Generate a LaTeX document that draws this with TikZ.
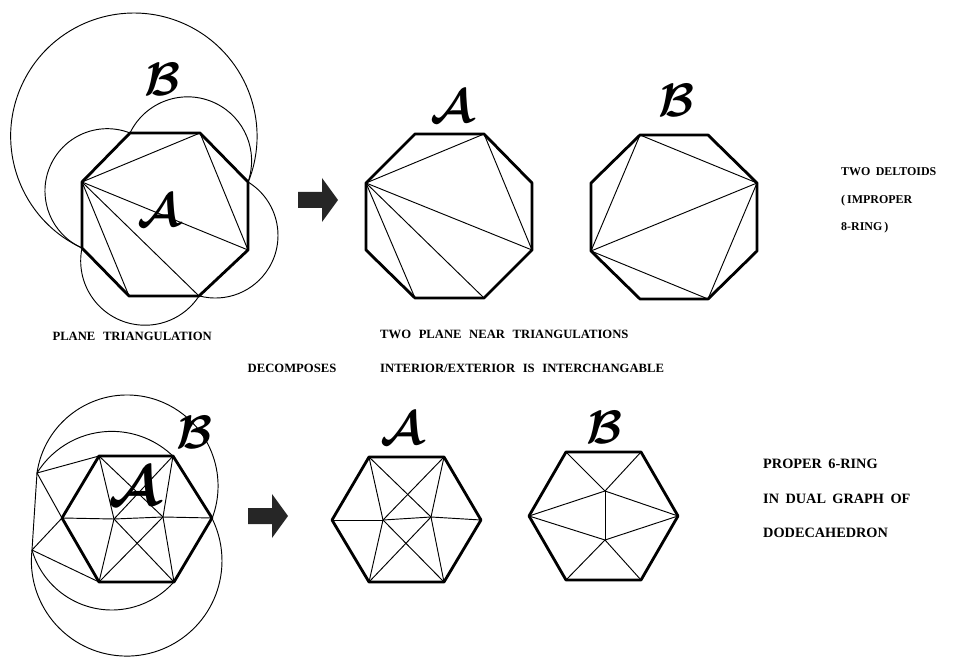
\RequirePackage{fix-cm}
\documentclass[tikz,border=0pt]{standalone}
\usepackage{fontspec}
\setmainfont{Liberation Serif}
\usetikzlibrary{positioning}

\newcommand{\capgap}{\spaceskip 0.6em\relax}
\newcommand{\notegap}{\spaceskip 0.45em\relax}

\tikzset{
    decomp/.pic={
        \fill[black!85] (-20,-8) -- (4,-8) -- (4,-22) -- (20,0) -- (4,22)
            -- (4,8) -- (-20,8) -- cycle;
    }
}

\begin{document}
\begin{tikzpicture}[x=0.03cm, y=-0.03cm,
    rim/.style={line width=2.4pt, line join=round},
    chord/.style={line width=0.8pt},
    letter/.style={inner sep=0pt, font=\fontsize{40}{40}\selectfont\boldmath},
    caption/.style={inner sep=0pt, text height=7pt, text depth=2.5pt,
                    font=\bfseries\fontsize{10.8}{12}\selectfont\capgap},
    note/.style={inner sep=0pt, text height=7pt, text depth=2.5pt,
                 font=\bfseries\fontsize{10.2}{12}\selectfont\notegap},
    bigcaption/.style={inner sep=0pt, text height=8.4pt, text depth=3pt,
                       font=\bfseries\fontsize{12.2}{14}\selectfont\notegap}
]
    \useasboundingbox (0,0) rectangle (954,657);

    % top row: the triangulated octagon, drawn with its outside half
    \coordinate (t1) at (130,133);
    \coordinate (t2) at (200,133);
    \coordinate (t3) at (248,182);
    \coordinate (t4) at (248,250);
    \coordinate (t5) at (199,296);
    \coordinate (t6) at (129,296);
    \coordinate (t7) at (82,248);
    \coordinate (t8) at (82,182);
    \draw[rim] (t1) -- (t2) -- (t3) -- (t4) -- (t5) -- (t6) -- (t7) -- (t8) -- cycle;
    \foreach \u/\v in {t8/t2, t8/t4, t8/t5, t8/t6, t2/t4}
        \draw[chord] (\u) -- (\v);
    \draw[chord] (t1) arc[start angle=68.6, end angle=246.1, radius=1.869cm];
    \draw[chord] (t1) arc[start angle=154.2, end angle=-19.3, radius=1.92cm];
    \draw[chord] (t3) arc[start angle=58.6, end angle=-105.2, radius=1.878cm];
    \draw[chord] (t7) arc[start angle=168.5, end angle=326.9, radius=1.932cm];
    \draw[chord] (t7) arc[start angle=245.1, end angle=-21.9, radius=3.696cm];
    \node[letter] (tlB) at (163,79) {$\mathcal{B}$};
    \node[letter] (tlA) at (159,210) {$\mathcal{A}$};

    \pic (splittop) at (318,200) {decomp};

    % top row: part A
    \coordinate (a1) at (415,134);
    \coordinate (a2) at (484,134);
    \coordinate (a3) at (532,183);
    \coordinate (a4) at (532,250);
    \coordinate (a5) at (484,298);
    \coordinate (a6) at (415,298);
    \coordinate (a7) at (366,250);
    \coordinate (a8) at (366,183);
    \draw[rim] (a1) -- (a2) -- (a3) -- (a4) -- (a5) -- (a6) -- (a7) -- (a8) -- cycle;
    \foreach \u/\v in {a8/a2, a8/a4, a8/a5, a8/a6, a2/a4}
        \draw[chord] (\u) -- (\v);
    \node[letter] (taA) at (452,106) {$\mathcal{A}$};

    % top row: part B
    \coordinate (b1) at (640,135);
    \coordinate (b2) at (708,135);
    \coordinate (b3) at (757,183);
    \coordinate (b4) at (757,251);
    \coordinate (b5) at (708,299);
    \coordinate (b6) at (640,299);
    \coordinate (b7) at (591,251);
    \coordinate (b8) at (591,183);
    \draw[rim] (b1) -- (b2) -- (b3) -- (b4) -- (b5) -- (b6) -- (b7) -- (b8) -- cycle;
    \foreach \u/\v in {b7/b1, b7/b3, b7/b5, b1/b3, b3/b5}
        \draw[chord] (\u) -- (\v);
    \node[letter] (tbB) at (677,100) {$\mathcal{B}$};

    \node[caption, anchor=east] (plane) at (212,338) {PLANE TRIANGULATION};
    \node[caption] (decomp) at (292,370) {DECOMPOSES};
    \node[caption, anchor=west] (near1) at (380,336) {TWO PLANE NEAR TRIANGULATIONS};
    \node[caption, anchor=west] (near2) at (380,370) {INTERIOR/EXTERIOR IS INTERCHANGABLE};
    \node[note, anchor=west] (delt1) at (841,173) {TWO DELTOIDS};
    \node[note, below=14pt of delt1.south west, anchor=north west] (delt2) {(\,IMPROPER};
    \node[note, below=13pt of delt2.south west, anchor=north west] (delt3) {8-RING\,)};

    % bottom row: the triangulated hexagon, drawn with its outside half
    \coordinate (h1) at (99,456);
    \coordinate (h2) at (173,456);
    \coordinate (h3) at (212,518);
    \coordinate (h4) at (174,582);
    \coordinate (h5) at (99,582);
    \coordinate (h6) at (62,518);
    \coordinate (hp) at (114,519);
    \coordinate (hq) at (163,517);
    \coordinate (ho1) at (37,473);
    \coordinate (ho2) at (32,550);
    \draw[rim] (h1) -- (h2) -- (h3) -- (h4) -- (h5) -- (h6) -- cycle;
    \foreach \u/\v in {h6/hp, hp/hq, hq/h3, h1/hp, h1/hq, h2/hp, h2/hq,
                       h5/hp, h5/hq, h4/hp, h4/hq,
                       ho1/h1, ho1/h6, ho1/ho2, ho2/h6, ho2/h5}
        \draw[chord] (\u) -- (\v);
    \draw[chord] (ho1) arc[start angle=171.8, end angle=-20.6, radius=2.73cm];
    \draw[chord] (ho1) arc[start angle=148.2, end angle=46.0, radius=2.64cm];
    \draw[chord] (ho2) arc[start angle=196.1, end angle=318.5, radius=2.49cm];
    \draw[chord] (ho2) arc[start angle=173.5, end angle=386.6, radius=2.859cm];
    \node[letter] (blB) at (195,432) {$\mathcal{B}$};
    \node[letter, font=\fontsize{48}{48}\selectfont\boldmath] (blA) at (134,486) {$\mathcal{A}$};

    \pic (splitbottom) at (268,516) {decomp};

    % bottom row: part A
    \coordinate (m1) at (369,457);
    \coordinate (m2) at (444,457);
    \coordinate (m3) at (481,520);
    \coordinate (m4) at (444,582);
    \coordinate (m5) at (369,582);
    \coordinate (m6) at (332,520);
    \coordinate (mp) at (383,520);
    \coordinate (mq) at (431,517);
    \draw[rim] (m1) -- (m2) -- (m3) -- (m4) -- (m5) -- (m6) -- cycle;
    \foreach \u/\v in {m6/mp, mp/mq, mq/m3, m1/mp, m1/mq, m2/mp, m2/mq,
                       m5/mp, m5/mq, m4/mp, m4/mq}
        \draw[chord] (\u) -- (\v);
    \node[letter] (bmA) at (402,428) {$\mathcal{A}$};

    % bottom row: part B
    \coordinate (n1) at (566,452);
    \coordinate (n2) at (641,452);
    \coordinate (n3) at (678,516);
    \coordinate (n4) at (641,580);
    \coordinate (n5) at (566,580);
    \coordinate (n6) at (529,516);
    \coordinate (nu) at (605,491);
    \coordinate (nl) at (605,540);
    \draw[rim] (n1) -- (n2) -- (n3) -- (n4) -- (n5) -- (n6) -- cycle;
    \foreach \u/\v in {n1/nu, n2/nu, n6/nu, n3/nu, nu/nl, n6/nl, n3/nl, n5/nl, n4/nl}
        \draw[chord] (\u) -- (\v);
    \node[letter] (bnB) at (605,427) {$\mathcal{B}$};

    \node[bigcaption, anchor=west] (ring1) at (763,465) {PROPER 6-RING};
    \node[bigcaption, below=18pt of ring1.south west, anchor=north west] (ring2) {IN DUAL GRAPH OF};
    \node[bigcaption, below=18pt of ring2.south west, anchor=north west] (ring3) {DODECAHEDRON};
\end{tikzpicture}
\end{document}
